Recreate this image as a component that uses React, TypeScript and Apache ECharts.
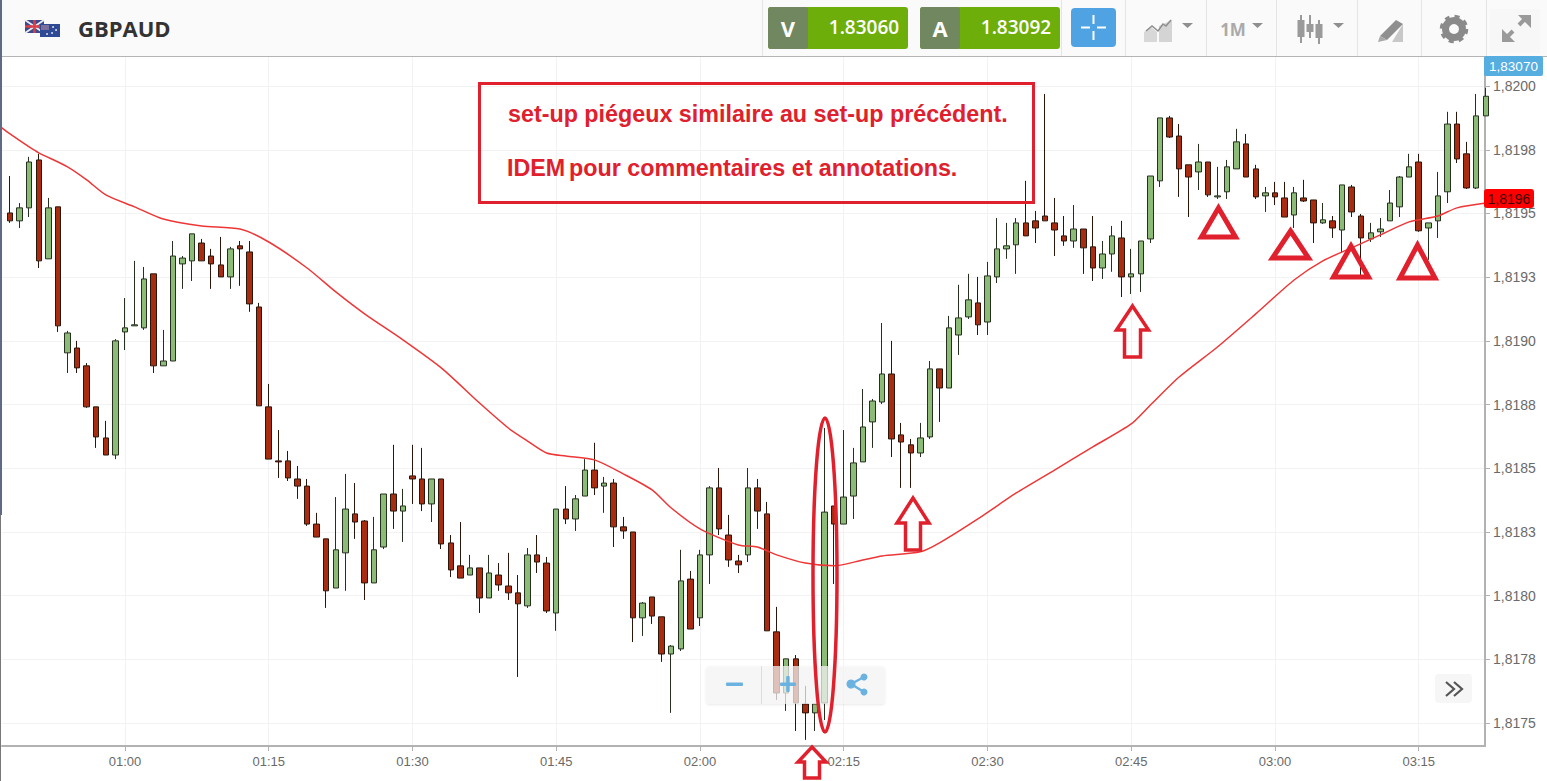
import React, { useEffect, useRef } from "react";
import * as echarts from "echarts";

const firstMinute = 48;

const opens = [
  1.819502,1.819471,1.819522,1.819710,1.819322,1.819526,1.818953,1.818972,1.818902,1.818741,
  1.818619,1.818552,1.819035,1.819059,1.819051,1.819263,1.818902,1.818921,1.819302,1.819314,
  1.819384,1.819333,1.819298,1.819251,1.819373,1.819349,1.819133,1.818741,1.818529,1.818529,
  1.818458,1.818430,1.818281,1.818223,1.818030,1.818168,1.818321,1.818293,1.818050,1.818191,
  1.818399,1.818332,1.818470,1.818458,1.818360,1.818458,1.818207,1.818117,1.818081,1.818109,
  1.817991,1.818081,1.818038,1.818011,1.817960,1.818160,1.818128,1.817932,1.818340,1.818301,
  1.818391,1.818493,1.818430,1.818442,1.818270,1.818250,1.817913,1.817995,1.817917,1.817771,
  1.817791,1.818065,1.817913,1.818160,1.818423,1.818238,1.818136,1.818160,1.818423,1.818321,
  1.817858,1.817618,1.817752,1.817575,1.817540,1.817579,1.818352,1.818281,1.818391,1.818525,
  1.818682,1.818760,1.818870,1.818631,1.818592,1.818560,1.818623,1.818890,1.818815,1.819023,
  1.819094,1.819149,1.819074,1.819251,1.819361,1.819377,1.819463,1.819471,1.819490,1.819463,
  1.819412,1.819392,1.819439,1.819369,1.819286,1.819341,1.819404,1.819251,1.819263,1.819400,
  1.819628,1.819875,1.819804,1.819691,1.819663,1.819702,1.819565,1.819585,1.819675,1.819773,
  1.819675,1.819569,1.819581,1.819561,1.819494,1.819561,1.819553,1.819463,1.819471,1.819435,
  1.819604,1.819490,1.819400,1.819428,1.819471,1.819526,1.819643,1.819702,1.819443,1.819471,
  1.819585,1.819851,1.819734,1.819600,1.819883,
];
const closes = [
  1.819471,1.819522,1.819702,1.819314,1.819522,1.819059,1.819031,1.818894,1.818741,1.818623,
  1.818552,1.819000,1.819051,1.819063,1.819243,1.818902,1.818921,1.819333,1.819325,1.819420,
  1.819314,1.819302,1.819251,1.819361,1.819361,1.819145,1.818745,1.818536,1.818525,1.818462,
  1.818430,1.818281,1.818230,1.818019,1.818180,1.818340,1.818289,1.818050,1.818180,1.818399,
  1.818332,1.818352,1.818458,1.818360,1.818458,1.818203,1.818101,1.818069,1.818109,1.817991,
  1.818089,1.818042,1.818011,1.817968,1.818160,1.818132,1.817940,1.818340,1.818301,1.818380,
  1.818493,1.818423,1.818442,1.818270,1.818254,1.817913,1.817971,1.817920,1.817771,1.817802,
  1.818058,1.817869,1.818160,1.818423,1.818262,1.818140,1.818121,1.818423,1.818332,1.817862,
  1.817618,1.817752,1.817579,1.817540,1.817575,1.818328,1.818281,1.818387,1.818521,1.818662,
  1.818764,1.818870,1.818615,1.818603,1.818560,1.818619,1.818890,1.818815,1.819051,1.819090,
  1.819161,1.819063,1.819255,1.819361,1.819373,1.819463,1.819412,1.819443,1.819471,1.819435,
  1.819392,1.819439,1.819365,1.819286,1.819341,1.819412,1.819251,1.819263,1.819392,1.819647,
  1.819875,1.819800,1.819675,1.819643,1.819702,1.819573,1.819569,1.819683,1.819781,1.819643,
  1.819565,1.819581,1.819565,1.819486,1.819581,1.819549,1.819463,1.819475,1.819443,1.819612,
  1.819506,1.819404,1.819424,1.819439,1.819541,1.819643,1.819683,1.819432,1.819463,1.819569,
  1.819851,1.819714,1.819600,1.819883,1.819960,
];
const lows = [
  1.819463,1.819443,1.819486,1.819286,1.819322,1.819035,1.818874,1.818874,1.818737,1.818580,
  1.818552,1.818536,1.818964,1.819059,1.819043,1.818874,1.818902,1.818921,1.819204,1.819235,
  1.819314,1.819204,1.819251,1.819204,1.819216,1.819114,1.818745,1.818536,1.818462,1.818450,
  1.818380,1.818274,1.818230,1.817952,1.818030,1.818019,1.818223,1.817983,1.818050,1.818183,
  1.818262,1.818211,1.818360,1.818332,1.818289,1.818183,1.818073,1.818069,1.818081,1.817932,
  1.817991,1.818019,1.817983,1.817681,1.817952,1.818089,1.817932,1.817862,1.818281,1.818254,
  1.818391,1.818395,1.818325,1.818191,1.818223,1.817818,1.817842,1.817889,1.817740,1.817540,
  1.817783,1.817869,1.817881,1.818046,1.818238,1.818113,1.818089,1.818132,1.818262,1.817862,
  1.817591,1.817548,1.817469,1.817434,1.817469,1.817512,1.818046,1.818281,1.818301,1.818525,
  1.818580,1.818752,1.818544,1.818423,1.818423,1.818544,1.818615,1.818682,1.818815,1.818945,
  1.819086,1.819023,1.819023,1.819227,1.819322,1.819263,1.819412,1.819384,1.819471,1.819333,
  1.819373,1.819365,1.819263,1.819235,1.819243,1.819271,1.819172,1.819184,1.819192,1.819384,
  1.819604,1.819796,1.819565,1.819486,1.819592,1.819565,1.819557,1.819557,1.819675,1.819643,
  1.819557,1.819506,1.819533,1.819486,1.819443,1.819545,1.819384,1.819459,1.819404,1.819345,
  1.819486,1.819251,1.819388,1.819408,1.819471,1.819486,1.819643,1.819428,1.819318,1.819404,
  1.819541,1.819698,1.819596,1.819596,1.819883,
];
const highs = [
  1.819647,1.819541,1.819722,1.819734,1.819561,1.819526,1.819039,1.819000,1.818913,1.818741,
  1.818686,1.819007,1.819168,1.819314,1.819290,1.819263,1.819043,1.819392,1.819333,1.819420,
  1.819400,1.819361,1.819408,1.819369,1.819392,1.819392,1.819149,1.818831,1.818650,1.818568,
  1.818509,1.818458,1.818325,1.818223,1.818387,1.818478,1.818442,1.818297,1.818309,1.818399,
  1.818592,1.818419,1.818592,1.818580,1.818458,1.818458,1.818238,1.818289,1.818160,1.818109,
  1.818160,1.818128,1.818168,1.818081,1.818187,1.818238,1.818152,1.818340,1.818430,1.818395,
  1.818536,1.818600,1.818466,1.818458,1.818309,1.818250,1.817975,1.817995,1.817917,1.817806,
  1.818180,1.818097,1.818180,1.818430,1.818501,1.818317,1.818160,1.818501,1.818458,1.818368,
  1.817956,1.817752,1.817767,1.817646,1.817575,1.818658,1.818352,1.818650,1.818580,1.818811,
  1.818772,1.819070,1.819000,1.818678,1.818615,1.818678,1.818921,1.818890,1.819098,1.819220,
  1.819263,1.819251,1.819310,1.819482,1.819463,1.819482,1.819628,1.819510,1.819969,1.819561,
  1.819490,1.819533,1.819439,1.819490,1.819392,1.819451,1.819471,1.819361,1.819392,1.819647,
  1.819875,1.819883,1.819851,1.819691,1.819773,1.819702,1.819683,1.819710,1.819832,1.819812,
  1.819691,1.819604,1.819624,1.819624,1.819604,1.819632,1.819553,1.819541,1.819490,1.819612,
  1.819612,1.819498,1.819463,1.819482,1.819592,1.819647,1.819734,1.819734,1.819463,1.819663,
  1.819899,1.819899,1.819781,1.819969,1.819993,
];

const maMinutes = [47,48,50,51,54,56,58,61,64,68,72,75,79,82,85,89,93,97,100,102,104,106,109,112,115,117,120,124,126,128,131,134,137,139,143,145,149,153,157,161,165,167,170,174,178,182,185,188,191,194,197,199,202];
const maValues = [1.819840,1.819812,1.819761,1.819738,1.819683,1.819632,1.819573,1.819526,1.819478,1.819451,1.819439,1.819388,1.819286,1.819192,1.819106,1.819004,1.818894,1.818756,1.818658,1.818607,1.818560,1.818548,1.818533,1.818478,1.818415,1.818344,1.818262,1.818199,1.818191,1.818160,1.818128,1.818117,1.818140,1.818156,1.818172,1.818207,1.818301,1.818403,1.818493,1.818584,1.818674,1.818748,1.818858,1.818976,1.819106,1.819239,1.819314,1.819365,1.819416,1.819467,1.819490,1.819522,1.819541];

const instrument = "GBPAUD";
const sellPrice = "1.83060";
const buyPrice = "1.83092";
const livePrice = "1,83070";
const lastPrice = "1,8196";
const noteFirst = "set-up piégeux similaire au set-up précédent.";
const noteWordBold = "IDEM";
const noteSecond = "pour commentaires et annotations.";

const RED = "#e0202c";
const GRAY = "#9a9a9a";
const BLUE = "#6bb2e0";

function minuteLabel(m: number) {
  const h = Math.floor(m / 60);
  const mm = Math.round(m - h * 60);
  return String(h).padStart(2, "0") + ":" + String(mm).padStart(2, "0");
}
function priceLabel(v: number) {
  return (Math.ceil(v * 1e4 - 0.01) / 1e4).toFixed(4).replace(".", ",");
}

function rect(x: number, y: number, w: number, h: number, fill: string, r = 0, z = 30, extra: any = {}) {
  return { type: "rect", z, shape: { x, y, width: w, height: h, r }, style: { fill, ...extra }, silent: true };
}
function txt(x: number, y: number, text: string, fill: string, font: string, align = "center", z = 31) {
  return { type: "text", z, silent: true, style: { x, y, text, fill, font, textAlign: align, textVerticalAlign: "middle" } };
}
function line(x1: number, y1: number, x2: number, y2: number, stroke: string, lineWidth = 1, z = 31) {
  return { type: "line", z, silent: true, shape: { x1, y1, x2, y2 }, style: { stroke, lineWidth } };
}
function poly(points: number[][], fill: string, z = 31) {
  return { type: "polygon", z, silent: true, shape: { points }, style: { fill } };
}
function outline(points: number[][], stroke: string, lineWidth: number, z = 40) {
  return { type: "polygon", z, silent: true, shape: { points }, style: { fill: "none", stroke, lineWidth, lineJoin: "miter", miterLimit: 6 } };
}
function upArrow(cx: number, tip: number, headY: number, halfHead: number, halfShaft: number, bottom: number) {
  return outline(
    [[cx, tip], [cx + halfHead, headY], [cx + halfShaft, headY], [cx + halfShaft, bottom], [cx - halfShaft, bottom], [cx - halfShaft, headY], [cx - halfHead, headY]],
    RED, 3.5);
}
function triangle(cx: number, top: number, half: number, base: number) {
  return outline([[cx, top], [cx + half, base], [cx - half, base]], RED, 5);
}

function headerElements(): any[] {
  const els: any[] = [];
  els.push(rect(0, 0, 1547, 56, "#fafafa", 0, 20));
  els.push(line(0, 56.5, 1547, 56.5, "#b4b4b4", 1, 21));
  els.push(rect(0, 0, 2, 515, "#5f6a84", 0, 45));
  els.push(rect(0, 515, 1, 266, "#777777", 0, 45));
  // flags
  els.push(rect(25, 20, 19, 13, "#3a4a8c"));
  els.push(line(25, 20, 44, 33, "#e9e9ee", 2));
  els.push(line(44, 20, 25, 33, "#e9e9ee", 2));
  els.push(line(34.5, 20, 34.5, 33, "#d9414a", 2.5));
  els.push(line(25, 26.5, 44, 26.5, "#d9414a", 2.5));
  els.push(rect(40, 24, 20, 13, "#2f4a95", 0, 32));
  els.push(rect(41, 25, 8, 5, "#7b6f9d", 0, 33));
  [[53, 27], [56, 30], [52, 33], [47, 34]].forEach(([x, y]) =>
    els.push({ type: "circle", z: 33, silent: true, shape: { cx: x, cy: y, r: 0.8 }, style: { fill: "#ffffff" } }));
  els.push(txt(78, 28, instrument, "#333333", '700 22px "Open Sans"', "left"));
  // V / A buttons
  [[768, "V", sellPrice], [920, "A", buyPrice]].forEach(([x0, letter, price]: any) => {
    els.push(rect(x0, 7, 140, 42, "#6eae0a", 3));
    els.push(rect(x0, 7, 40, 42, "#70875f", 3, 31));
    els.push(txt(x0 + 20, 28, letter, "#ffffff", '700 22px "Open Sans"', "center", 32));
    els.push(txt(x0 + 96, 27, price, "#ffffff", '600 19px "Open Sans"', "center", 32));
  });
  // crosshair button
  els.push(rect(1071, 8, 45, 39, "#4fa3e2", 4));
  els.push(line(1081, 27.5, 1090, 27.5, "#ffffff", 2, 32));
  els.push(line(1097, 27.5, 1106, 27.5, "#ffffff", 2, 32));
  els.push(line(1093.5, 15, 1093.5, 24, "#ffffff", 2, 32));
  els.push(line(1093.5, 31, 1093.5, 40, "#ffffff", 2, 32));
  // separators
  [762, 1061, 1125, 1206, 1276, 1357, 1421, 1486].forEach((x) => els.push(line(x + 0.5, 0, x + 0.5, 56, "#e4e4e4", 1, 21)));
  // comparison icon
  els.push(poly([[1144, 42], [1144, 32], [1151, 27], [1157, 32], [1157, 42]], "#d8d8d8"));
  els.push(poly([[1159, 42], [1159, 26], [1172, 20], [1172, 42]], "#d4d4d4"));
  els.push({ type: "polyline", z: 32, silent: true, shape: { points: [[1146, 31], [1152, 26], [1158, 31], [1163, 24], [1166, 26], [1171, 20]] }, style: { stroke: "#8e8e8e", lineWidth: 1.5, fill: "none" } });
  [1182, 1252, 1333].forEach((x) => els.push(poly([[x, 23], [x + 11, 23], [x + 5.5, 28]], "#8f8f8f")));
  els.push(txt(1233, 29, "1M", "#aaaaaa", '700 17px "Open Sans"'));
  // candles icon
  [[1301, 20, 37, 15, 43], [1310, 24, 32, 15, 38], [1319, 24, 38, 20, 44]].forEach(([x, a, b, c, d]) => {
    els.push(line(x, c, x, d, GRAY, 2));
    els.push(rect(x - 3.5, a, 7, b - a, GRAY));
  });
  // drawing icon
  els.push(poly([[1378, 42], [1403, 42], [1403, 24], [1392, 42]], "#c8c8c8"));
  els.push(poly([[1380, 36], [1396, 20], [1403, 24], [1387, 40]], "#8f8f8f"));
  els.push(poly([[1378, 42], [1380, 36], [1387, 40]], "#a9a9a9"));
  // settings icon
  els.push({ type: "circle", z: 31, silent: true, shape: { cx: 1454, cy: 29, r: 8.5 }, style: { fill: "none", stroke: "#8a8a8a", lineWidth: 7 } });
  els.push({ type: "circle", z: 31, silent: true, shape: { cx: 1454, cy: 29, r: 12.5 }, style: { fill: "none", stroke: "#8a8a8a", lineWidth: 3.5, lineDash: [4.9, 4.9] } });
  // expand icon
  els.push(rect(1490, 9, 50, 44, "#f7f7f7", 0, 22));
  els.push(line(1506, 38, 1513, 31, GRAY, 4));
  els.push(line(1519, 25, 1526, 18, GRAY, 4));
  els.push(poly([[1518, 15], [1531, 15], [1531, 28]], GRAY, 32));
  els.push(poly([[1502, 29], [1502, 42], [1515, 42]], GRAY, 32));
  return els;
}

function overlayElements(): any[] {
  const els: any[] = [];
  // note box
  els.push({ type: "rect", z: 40, silent: true, shape: { x: 479.5, y: 83.5, width: 554, height: 119 }, style: { fill: "none", stroke: RED, lineWidth: 3 } });
  els.push(txt(508, 114, noteFirst, RED, '700 23.3px "Liberation Sans"', "left", 41));
  els.push(txt(507, 168, noteWordBold, RED, '700 23.3px "Liberation Sans"', "left", 41));
  els.push(txt(569, 168, noteSecond, RED, '700 23.3px "Liberation Sans"', "left", 41));
  // ellipse
  els.push({ type: "ellipse", z: 40, silent: true, shape: { cx: 825, cy: 575, rx: 12, ry: 157 }, style: { fill: "none", stroke: RED, lineWidth: 3.5 } });
  // arrows
  els.push(upArrow(812, 747, 762, 14, 7.5, 778));
  els.push(upArrow(913, 498, 523, 16, 7.5, 550));
  els.push(upArrow(1132.5, 306, 330, 16, 8, 357));
  // triangles
  els.push(triangle(1218.5, 208, 17, 237));
  els.push(triangle(1290.5, 231, 18, 258));
  els.push(triangle(1351, 246, 17.5, 277));
  els.push(triangle(1417.5, 245, 17.5, 278));
  // price tags
  els.push(rect(1484, 56, 59, 20, "#55ade0", 2, 42));
  els.push(txt(1513.5, 66, livePrice, "#ffffff", '13.5px "Liberation Sans"', "center", 43));
  els.push(rect(1484, 189, 50, 19, "#ff0000", 3, 42));
  els.push(txt(1509, 199, lastPrice, "#3a0606", '14px "Liberation Sans"', "center", 43));
  // zoom bar
  els.push(rect(706, 666, 179, 38, "rgba(247,247,247,0.72)", 4, 35, { shadowBlur: 2, shadowColor: "rgba(0,0,0,0.12)", shadowOffsetY: 1 }));
  els.push(line(761.5, 666, 761.5, 704, "#dddddd", 1, 36));
  els.push(rect(726, 682.5, 17, 3.5, BLUE, 1, 37));
  els.push(rect(780, 682.5, 16, 3.5, BLUE, 1, 37));
  els.push(rect(786.2, 676, 3.5, 16, BLUE, 1, 37));
  els.push(line(851, 684, 864, 677, BLUE, 2.5, 36));
  els.push(line(851, 684, 864, 692, BLUE, 2.5, 36));
  [[851, 684, 4.5], [864, 677, 3.5], [864, 692, 3.5]].forEach(([cx, cy, r]) =>
    els.push({ type: "circle", z: 37, silent: true, shape: { cx, cy, r }, style: { fill: BLUE } }));
  // collapse button
  els.push(rect(1435, 674, 37, 29, "#f6f6f6", 4, 35));
  [[1446, 682], [1454, 682]].forEach(([x, y]) =>
    els.push({ type: "polyline", z: 36, silent: true, shape: { points: [[x, y], [x + 8, y + 7], [x, y + 14]] }, style: { fill: "none", stroke: "#555555", lineWidth: 2.2 } }));
  return els;
}

export default function App() {
  const ref = useRef<HTMLDivElement>(null);
  useEffect(() => {
    document.body.style.margin = "0";
    document.body.style.background = "#ffffff";
    const chart = echarts.init(ref.current!, undefined, { renderer: "svg" });
    const candles = opens.map((o, i) => [firstMinute + i, o, closes[i], lows[i], highs[i]]);
    const ma = maMinutes.map((m, i) => [m, maValues[i]]);
    chart.setOption({
      animation: false,
      backgroundColor: "#ffffff",
      grid: { left: 2, right: 62, top: 56, bottom: 35 },
      xAxis: {
        type: "value",
        min: 47.165,
        max: 201.92,
        minInterval: 15,
        maxInterval: 15,
        splitNumber: 10,
        axisLine: { onZero: false, lineStyle: { color: "#b2b2b2", width: 2 } },
        axisTick: { length: 5, lineStyle: { color: "#b2b2b2" } },
        axisLabel: {
          color: "#6a6a6a",
          fontFamily: "Liberation Sans",
          fontSize: 13,
          margin: 9,
          showMinLabel: false,
          showMaxLabel: false,
          formatter: (v: number) => minuteLabel(v),
        },
        splitLine: { show: true, showMinLine: false, showMaxLine: false, lineStyle: { color: "#f2f2f4", width: 1 } },
      },
      yAxis: {
        type: "value",
        position: "right",
        min: 1.81741,
        max: 1.820118,
        minInterval: 0.00025,
        maxInterval: 0.00025,
        splitNumber: 11,
        scale: true,
        axisLine: { show: true, onZero: false, lineStyle: { color: "#b2b2b2", width: 2 } },
        axisTick: { show: true, length: 5, lineStyle: { color: "#b2b2b2" } },
        axisLabel: {
          color: "#6a6a6a",
          fontFamily: "Liberation Sans",
          fontSize: 14,
          margin: 8,
          showMinLabel: false,
          showMaxLabel: false,
          formatter: (v: number) => priceLabel(v),
        },
        splitLine: { show: true, showMinLine: false, showMaxLine: false, lineStyle: { color: "#f2f2f4", width: 1 } },
      },
      series: [
        {
          type: "candlestick",
          data: candles,
          encode: { x: 0, y: [1, 2, 3, 4] },
          barWidth: 6,
          large: false,
          clip: true,
          z: 2,
          itemStyle: {
            color: "#8cbb78",
            color0: "#a82d10",
            borderColor: "#26301f",
            borderColor0: "#2b160c",
            borderWidth: 1,
          },
        },
        {
          type: "line",
          data: ma,
          showSymbol: false,
          smooth: 0.25,
          z: 3,
          lineStyle: { color: "#ee3636", width: 1.5 },
        },
      ],
      graphic: { elements: [...headerElements(), ...overlayElements()] },
    });
    return () => chart.dispose();
  }, []);
  return <div ref={ref} style={{ position: "absolute", left: 0, top: 0, width: 1547, height: 781 }} />;
}
